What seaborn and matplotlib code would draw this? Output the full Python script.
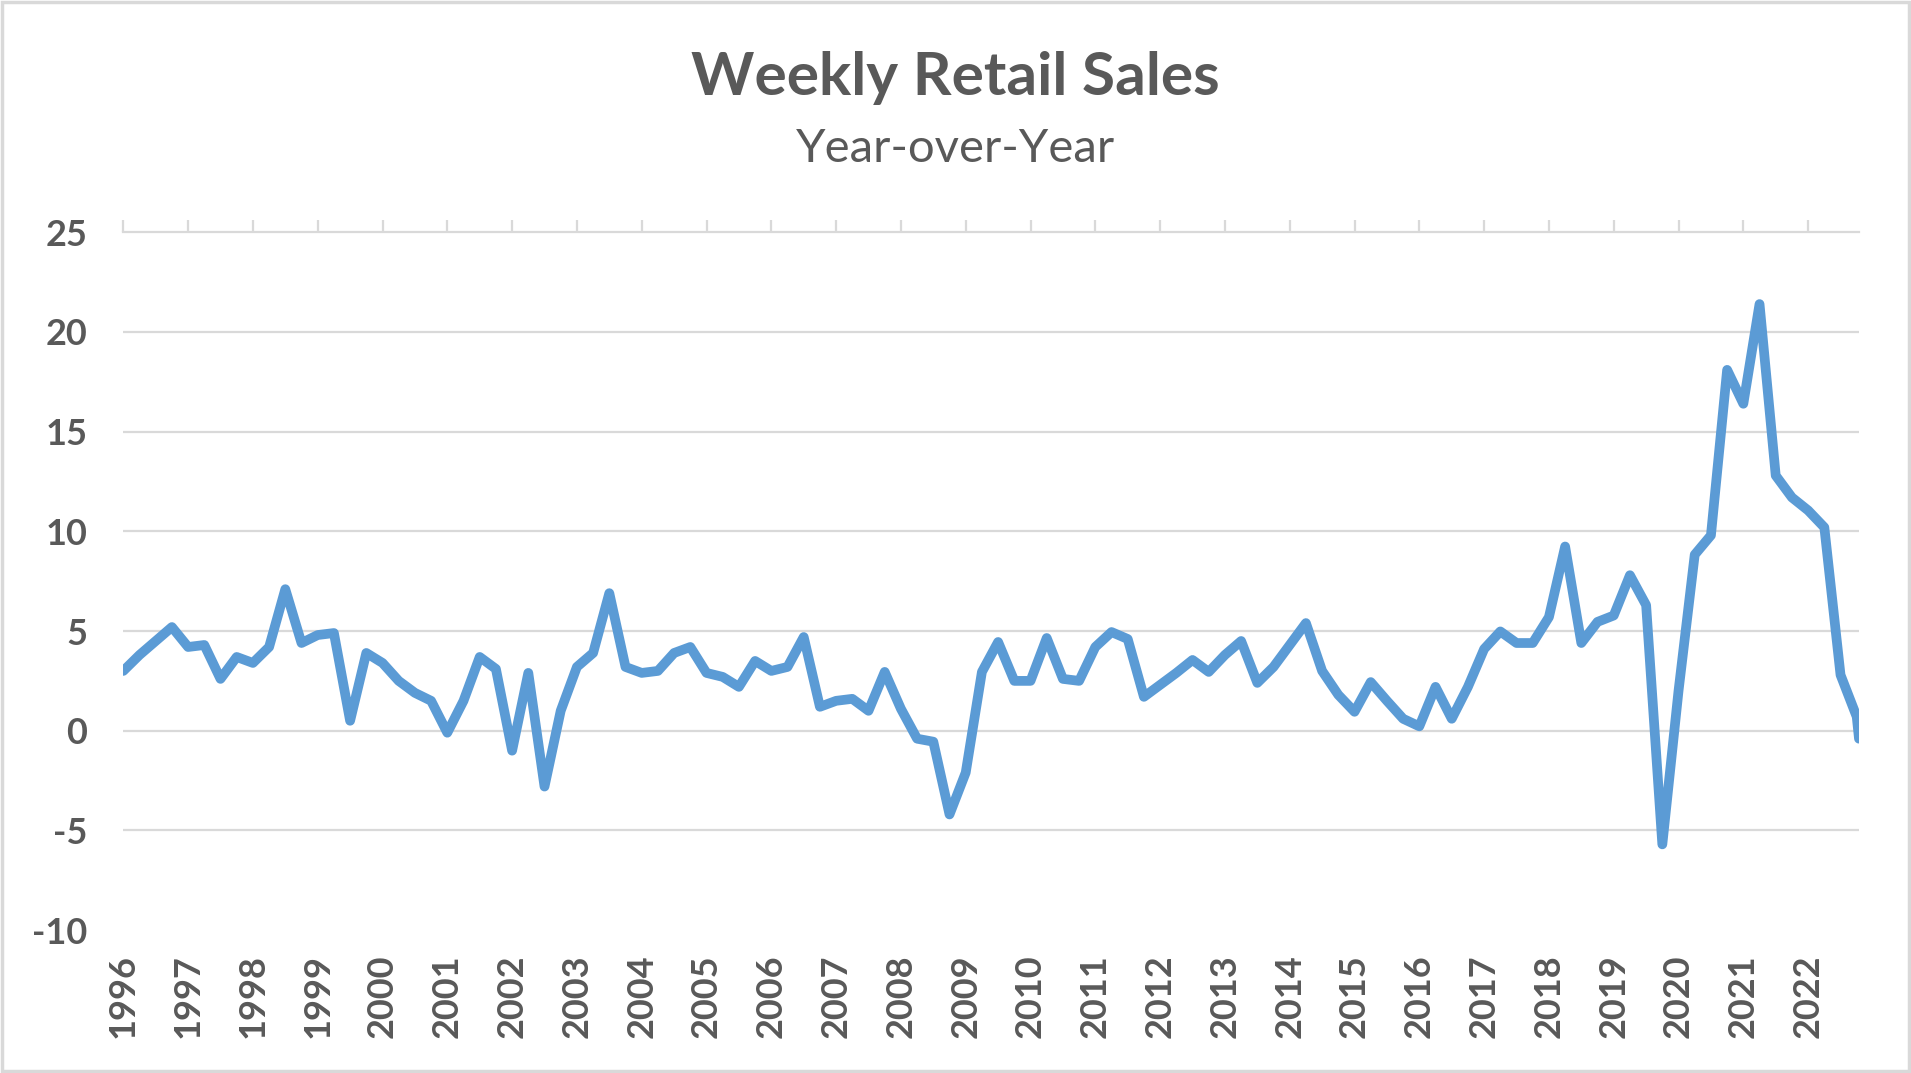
import numpy as np
import pandas as pd
import matplotlib
matplotlib.use("Agg")
import matplotlib.pyplot as plt
import seaborn as sns
from matplotlib.patches import Rectangle

# ---- data ----
start_year = 1996
quarter_step = 0.25
last_x = 2022.785
yoy_values = [
    3.0, 3.8, 4.5, 5.2, 4.2, 4.3, 2.6, 3.7, 3.4, 4.2,
    7.1, 4.4, 4.8, 4.9, 0.5, 3.9, 3.4, 2.5, 1.9, 1.5,
    -0.1, 1.5, 3.7, 3.1, -1.0, 2.9, -2.8, 1.0, 3.2, 3.9,
    6.9, 3.2, 2.9, 3.0, 3.9, 4.2, 2.9, 2.7, 2.2, 3.5,
    3.0, 3.2, 4.7, 1.2, 1.5, 1.6, 1.0, 2.95, 1.1, -0.4,
    -0.55, -4.2, -2.1, 2.95, 4.45, 2.5, 2.5, 4.65, 2.6, 2.5,
    4.2, 4.95, 4.6, 1.7, 2.3, 2.9, 3.55, 2.95, 3.8, 4.5,
    2.4, 3.2, 4.3, 5.4, 3.0, 1.8, 0.95, 2.44, 1.5, 0.6,
    0.22, 2.2, 0.6, 2.2, 4.1, 4.98, 4.4, 4.4, 5.7, 9.24,
    4.4, 5.46, 5.78, 7.8, 6.3, -5.7, 2.0, 8.83, 9.8, 18.1,
    16.4, 21.4, 12.8, 11.7, 11.05, 10.2, 2.8, 0.7, -0.4,
]
year_ticks = list(range(1996, 2023))
y_ticks = [-10, -5, 0, 5, 10, 15, 20, 25]
title = "Weekly Retail Sales"
subtitle = "Year-over-Year"

x_vals = [start_year + quarter_step * i for i in range(len(yoy_values) - 1)] + [last_x]
df = pd.DataFrame({"x": x_vals, "yoy": yoy_values})

# ---- styling ----
sns.set_theme(style="white")
plt.rcParams["font.family"] = ["Lato", "DejaVu Sans"]
TXT = "#595959"
GRID = "#d9d9d9"
LINE = "#5b9bd5"

fig = plt.figure(figsize=(19.11, 10.73), dpi=100)
ax = fig.add_axes([123.3 / 1911, 1 - 930.1 / 1073, (1859 - 123.3) / 1911, (930.1 - 232.3) / 1073])

sns.lineplot(data=df, x="x", y="yoy", ax=ax, color=LINE, linewidth=7.0,
             solid_joinstyle="round", solid_capstyle="round")

ax.set_xlim(start_year, last_x)
ax.set_ylim(y_ticks[0], y_ticks[-1])
ax.set_yticks(y_ticks)
ax.set_yticklabels([str(v) for v in y_ticks])
ax.set_xticks(year_ticks)
ax.set_xticklabels([str(y) for y in year_ticks], rotation=90)
ax.set_xlabel("")
ax.set_ylabel("")

# gridlines
ax.yaxis.grid(True, color=GRID, linewidth=1.6)
ax.set_axisbelow(True)
for val, gl in zip(y_ticks, ax.yaxis.get_gridlines()):
    if val in (-10, 25):
        gl.set_visible(False)

for side in ["left", "right", "bottom"]:
    ax.spines[side].set_visible(False)
ax.spines["top"].set_visible(True)
ax.spines["top"].set_color(GRID)
ax.spines["top"].set_linewidth(1.6)

ax.tick_params(axis="y", left=False, right=False, pad=20, labelsize=26, labelcolor=TXT)
ax.tick_params(axis="x", top=True, bottom=False, labeltop=False, labelbottom=True,
               direction="out", length=8.5, width=1.6, color=GRID,
               pad=9, labelsize=26, labelcolor=TXT)
for lab in ax.get_yticklabels() + ax.get_xticklabels():
    lab.set_fontweight("bold")
for lab in ax.get_xticklabels():
    lab.set_va("top")

fig.text(0.5, 1 - 95 / 1073, title, ha="center", va="baseline", fontsize=43.5,
         fontweight="bold", color=TXT)
fig.text(0.5, 1 - 162 / 1073, subtitle, ha="center", va="baseline", fontsize=34,
         color=TXT)

fig.patches.append(Rectangle((0.001, 0.0015), 0.998, 0.997, transform=fig.transFigure,
                             fill=False, edgecolor=GRID, linewidth=2.5))

fig.savefig("out.png", dpi=100, facecolor="white")
